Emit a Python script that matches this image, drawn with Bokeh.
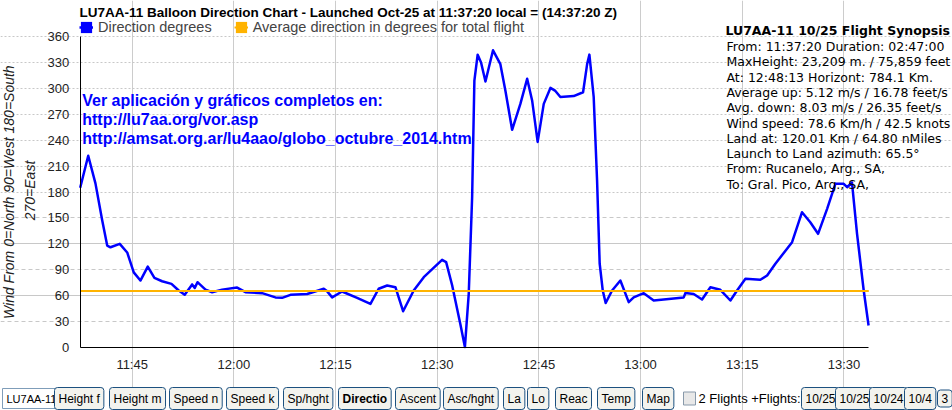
import pandas as pd
from math import pi
from bokeh.plotting import figure
from bokeh.models import (Range1d, FixedTicker, DatetimeTickFormatter, Grid, Label,
                          Legend, LegendItem)
from bokeh.embed import file_html
from bokeh.resources import INLINE

# ---------------- data ----------------
FLIGHT_DATE = "2014-10-25"
launch_time = "11:37:20"
last_time = "13:33:40"

times = [
    "11:37:20", "11:38:31", "11:39:35", "11:40:35", "11:41:19", "11:41:48", "11:43:10", "11:44:16",
    "11:45:14", "11:46:13", "11:47:18", "11:48:17", "11:49:25", "11:50:48", "11:51:52", "11:52:45",
    "11:53:51", "11:54:14", "11:54:38", "11:55:49", "11:56:48", "11:58:16", "12:00:29", "12:01:43",
    "12:04:10", "12:06:08", "12:07:07", "12:08:21", "12:10:49", "12:13:16", "12:13:46", "12:14:30",
    "12:15:58", "12:18:11", "12:20:09", "12:21:22", "12:22:37", "12:23:50", "12:24:58", "12:26:32",
    "12:28:01", "12:30:43", "12:31:19", "12:32:12", "12:33:25", "12:34:05", "12:34:39", "12:35:09",
    "12:35:29", "12:35:58", "12:36:28", "12:37:07", "12:38:14", "12:39:19", "12:40:04", "12:41:03",
    "12:42:16", "12:43:16", "12:44:00", "12:44:49", "12:45:43", "12:46:42", "12:47:26", "12:48:10",
    "12:50:08", "12:51:31", "12:52:07", "12:52:27", "12:53:05", "12:53:35", "12:53:58", "12:54:25",
    "12:54:51", "12:55:48", "12:57:01", "12:58:15", "12:58:59", "13:00:28", "13:01:56", "13:06:22",
    "13:06:37", "13:07:50", "13:09:04", "13:10:18", "13:11:46", "13:13:15", "13:14:14", "13:15:28",
    "13:17:40", "13:18:40", "13:19:53", "13:22:21", "13:23:49", "13:25:02", "13:26:11", "13:27:31",
    "13:28:44", "13:29:58", "13:30:28", "13:31:11", "13:31:56", "13:32:55", "13:33:38",
]
direction_deg = [
    185, 222, 190, 147, 118, 116, 120, 110,
    87, 77.5, 93.7, 80.6, 76.7, 73.7, 66, 61,
    73, 69, 75.6, 67, 64, 67, 69.4, 64,
    62.9, 58, 57.5, 61, 62, 68, 65, 58,
    64.8, 57.5, 50.5, 68, 71.8, 69.8, 42, 66,
    81.4, 101.5, 98.8, 72, 27, 0.5, 62, 174,
    309, 339, 330, 308, 344, 328, 297, 252,
    282, 311, 286, 238, 282, 300.5, 297, 290,
    291, 295.5, 328, 339, 290, 193, 97, 66,
    51.5, 66, 77.5, 52.5, 58, 62.9, 54.4, 58,
    63, 62, 55.6, 69.8, 66.8, 54.4, 66, 79.5,
    78.4, 83.3, 96.9, 121.9, 156.6, 145, 131.6, 160.5,
    189.5, 189.5, 185.5, 191, 131.6, 66, 25.5,
]
average_direction = 65.5

x_tick_labels = ["11:45", "12:00", "12:15", "12:30", "12:45", "13:00", "13:15", "13:30"]
y_tick_values = [0, 30, 60, 90, 120, 150, 180, 210, 240, 270, 300, 330, 360]
y_solid_grid = [60, 120]
y_dashed_grid = [30, 90, 150]
y_dotted_grid = [180, 210, 240, 270, 300, 330, 360]

chart_title = "LU7AA-11 Balloon Direction Chart - Launched Oct-25 at 11:37:20 local = (14:37:20 Z)"
series_names = ["Direction degrees", "Average direction in degrees for total flight"]
y_label_lines = ["Wind From 0=North 90=West 180=South", "270=East"]
info_lines = ["Ver aplicación y gráficos completos en:",
              "http://lu7aa.org/vor.asp",
              "http://amsat.org.ar/lu4aao/globo_octubre_2014.htm"]
synopsis_title = "LU7AA-11 10/25 Flight Synopsis"
synopsis_lines = [
    "From: 11:37:20 Duration: 02:47:00",
    "MaxHeight: 23,209 m. / 75,859 feet",
    "At: 12:48:13  Horizont: 784.1 Km.",
    "Average up: 5.12 m/s / 16.78 feet/s",
    "Avg. down: 8.03 m/s / 26.35 feet/s",
    "Wind speed: 78.6 Km/h / 42.5 knots",
    "Land at: 120.01 Km / 64.80 nMiles",
    "Launch to Land azimuth: 65.5°",
    "From: Rucanelo, Arg., SA,",
    "To: Gral. Pico, Arg., SA,",
]
callsign_box = "LU7AA-11"
chart_buttons = ["Height f", "Height m", "Speed n", "Speed k", "Sp/hght", "Directio",
                 "Ascent", "Asc/hght", "La", "Lo", "Reac", "Temp", "Map"]
flights_text = "2 Flights +Flights:"
flight_buttons = ["10/25", "10/25", "10/24", "10/4", "3"]

# ---------------- layout constants (window px) ----------------
chart_button_left = [54, 109, 169, 226, 283, 338, 395, 443, 503, 527, 555, 597, 642]
flight_button_left = [801, 835, 869, 904, 937]


def ts(t):
    return pd.Timestamp(f"{FLIGHT_DATE} {t}")


def ms(t):
    return ts(t).value / 1e6


W, H = 952, 410
AX_L, AX_R = 79.7, 868.3     # pixel x of launch / last time
AX_T, AX_B = 36.0, 347.0     # pixel y of 360 / 0 degrees

x0, x1 = ms(launch_time), ms(last_time)
kx = (AX_R - AX_L) / (x1 - x0)
ky = (AX_B - AX_T) / 360.0

# the frame covers the whole canvas; axes are pinned at the chart's edges
p = figure(width=W, height=H, x_axis_type="datetime", output_backend="svg",
           toolbar_location=None, title=None,
           x_range=Range1d(x0 - AX_L / kx, x0 + (W - AX_L) / kx),
           y_range=Range1d(-(H - AX_B) / ky, 360 + AX_T / ky),
           min_border_left=0, min_border_right=0, min_border_top=0, min_border_bottom=0)
p.outline_line_color = None
p.background_fill_color = "white"
p.border_fill_color = "white"

# axes
p.xaxis.ticker = FixedTicker(ticks=[ms(t) for t in x_tick_labels])
fmt = "%H:%M"
p.xaxis.formatter = DatetimeTickFormatter(seconds=fmt, minsec=fmt, minutes=fmt, hourmin=fmt,
                                          hours=fmt, days=fmt, months=fmt, years=fmt)
p.xaxis.bounds = (x0, x1)
p.xaxis.fixed_location = 0
p.yaxis.ticker = FixedTicker(ticks=y_tick_values)
p.yaxis.bounds = (0, 360)
p.yaxis.fixed_location = x0
for ax in (p.xaxis[0], p.yaxis[0]):
    ax.axis_line_color = "black"
    ax.axis_line_width = 1
    ax.major_tick_line_color = None
    ax.minor_tick_line_color = None
    ax.major_tick_out = 0
    ax.major_tick_in = 0
    ax.major_label_text_font = "Liberation Sans"
    ax.major_label_text_font_size = "13px"
    ax.major_label_text_color = "#222222"
p.xaxis.major_label_standoff = 9
p.yaxis.major_label_standoff = 11

# grids
p.xgrid.grid_line_color = "#cccccc"
p.xgrid.grid_line_width = 1
p.xgrid.bounds = (0, 360)
p.ygrid.visible = False
for ticks, dash in ((y_solid_grid, "solid"), (y_dashed_grid, "4 3"), (y_dotted_grid, "2 2")):
    p.add_layout(Grid(dimension=1, ticker=FixedTicker(ticks=ticks), bounds=(x0, x1),
                      grid_line_color="#c8c8c8", grid_line_dash=dash, grid_line_width=1))

# data
x = [ts(t) for t in times]
x_avg = [ts(launch_time), ts(last_time)]
y_avg = [average_direction, average_direction]
# zero-height areas along each series: give the legend its filled squares
sq_blue = p.varea(x=x, y1=direction_deg, y2=direction_deg, fill_color="#0000ff")
sq_orange = p.varea(x=x_avg, y1=y_avg, y2=y_avg, fill_color="#ffb300")
line_r = p.line(x, direction_deg, line_color="#0000ff", line_width=2.5, line_join="round")
avg_r = p.line(x_avg, y_avg, line_color="#ffb300", line_width=2)

legend = Legend(items=[LegendItem(label=series_names[0], renderers=[sq_blue, line_r]),
                       LegendItem(label=series_names[1], renderers=[sq_orange, avg_r])],
                location=(79, H - 35), orientation="horizontal",
                glyph_width=14, glyph_height=14, label_standoff=5, spacing=22,
                padding=0, margin=0, border_line_color=None, background_fill_alpha=0,
                label_text_font="Liberation Sans", label_text_font_size="14.5px",
                label_height=14, label_text_baseline="middle")
p.add_layout(legend)


def txt(text, wx, wy, size="13px", style="normal", color="black",
        font="Liberation Sans", align="left", baseline="alphabetic", angle=0, **kw):
    p.add_layout(Label(x=wx, y=H - wy, x_units="screen", y_units="screen", text=text,
                       text_font=font, text_font_size=size, text_font_style=style,
                       text_color=color, text_align=align, text_baseline=baseline,
                       angle=angle, **kw))


# title
txt(chart_title, 79, 12, size="13.5px", style="bold")

# y axis label (two lines)
txt(y_label_lines[0], 8.5, 191.7, size="14px", style="italic", color="#222222",
    align="center", baseline="middle", angle=pi / 2)
txt(y_label_lines[1], 29, 190, size="14px", style="italic", color="#222222",
    align="center", baseline="middle", angle=pi / 2)

# info text
for i, line in enumerate(info_lines):
    txt(line, 81.7, 100 + i * 19.2, size="16px", style="bold", color="#0000ff")

# synopsis
txt(synopsis_title, 725, 30, size="12.5px", style="bold", font="DejaVu Sans")
for i, line in enumerate(synopsis_lines):
    txt(line, 726, 46 + i * 15.3, size="12.5px", font="DejaVu Sans")

# bottom control row
row_y = 398
txt(callsign_box, 2, row_y, size="11px", baseline="middle",
    background_fill_color="white", border_line_color="#7f9db9", padding=(4, 4, 4, 4))
for lab, left in zip(chart_buttons, chart_button_left):
    txt(lab, left, row_y, size="12px", baseline="middle",
        style="bold" if lab == "Directio" else "normal",
        background_fill_color="#f3f3ee", border_line_color="#1c5180",
        border_radius=3, padding=(4, 4, 4, 4))
txt("\u2003", 683, row_y, size="10px", baseline="middle",
    background_fill_color="#e8e8e8", border_line_color="#8899aa", padding=(1, 1, 1, 1))
txt(flights_text, 698, row_y, size="13px", baseline="middle")
for lab, left in zip(flight_buttons, flight_button_left):
    txt(lab, left, row_y, size="12px", baseline="middle",
        background_fill_color="#f3f3ee", border_line_color="#1c5180",
        border_radius=3, padding=(4, 4, 4, 4))

open("out.html", "w").write(file_html(p, INLINE))
